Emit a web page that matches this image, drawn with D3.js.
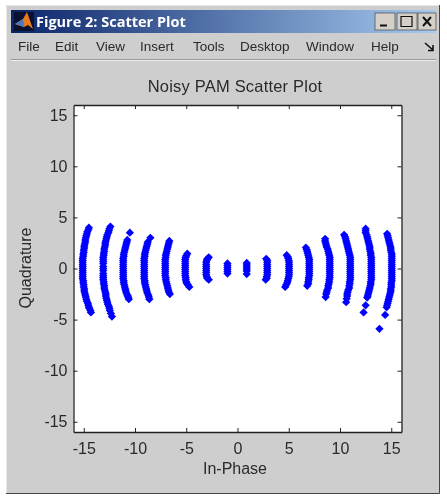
<!DOCTYPE html>
<html><head><meta charset="utf-8">
<script src="https://cdn.jsdelivr.net/npm/d3@7"></script>
<style>html,body{margin:0;padding:0;background:#fff}svg{display:block;filter:blur(0.35px)}text{font-family:"Liberation Sans",Arial,sans-serif;fill:#2a2a2a}</style>
</head><body><div id="c"></div>
<script>
const titleText = "Noisy PAM Scatter Plot", xLabel = "In-Phase", yLabel = "Quadrature";
const windowTitle = "Figure 2: Scatter Plot";
const menuItems = [["File",18],["Edit",55],["View",96],["Insert",140],["Tools",193],["Desktop",240],["Window",306],["Help",371]];
const xTicks = [-15,-10,-5,0,5,10,15], yTicks = [-15,-10,-5,0,5,10,15];
const armN15 = [[-14.5,4],[-14.55,3.8],[-14.65,3.6],[-14.7,3.4],[-14.75,3.2],[-14.8,3],[-14.85,2.8],[-14.85,2.6],[-14.9,2.4],[-14.95,2.2],[-14.95,2],[-15,1.8],[-15,1.6],[-15.05,1.4],[-15.05,1.2],[-15.1,1],[-15.1,.8],[-15.1,.6],[-15.1,.4],[-15.1,.2],[-15.1,0],[-15.1,-.2],[-15.1,-.4],[-15.1,-.6],[-15.1,-.8],[-15.1,-1],[-15.05,-1.2],[-15.05,-1.4],[-15,-1.6],[-15,-1.8],[-14.95,-2],[-14.95,-2.2],[-14.9,-2.4],[-14.85,-2.6],[-14.8,-2.8],[-14.75,-3],[-14.7,-3.2],[-14.6,-3.4],[-14.55,-3.6],[-14.5,-3.8],[-14.45,-3.9],[-14.35,-4.1],[-14.3,-4.3]];
const armN13 = [[-12.4,4.1],[-12.5,3.9],[-12.55,3.7],[-12.6,3.5],[-12.7,3.3],[-12.75,3.1],[-12.8,2.9],[-12.85,2.7],[-12.9,2.5],[-12.9,2.3],[-12.95,2.1],[-13,1.9],[-13,1.7],[-13.05,1.5],[-13.05,1.3],[-13.1,1.1],[-13.1,.9],[-13.1,.7],[-13.1,.5],[-13.1,.2],[-13.1,0],[-13.1,-.2],[-13.1,-.5],[-13.1,-.7],[-13.1,-.9],[-13.1,-1.1],[-13.05,-1.3],[-13.05,-1.5],[-13,-1.7],[-13,-1.9],[-12.95,-2.1],[-12.9,-2.3],[-12.85,-2.5],[-12.85,-2.7],[-12.8,-2.9],[-12.75,-3.1],[-12.7,-3.3],[-12.65,-3.5],[-12.55,-3.7],[-12.5,-3.9],[-12.45,-4.1],[-12.35,-4.4],[-12.25,-4.7]];
const armN11 = [[-10.5,3.5],[-10.75,2.8],[-10.8,2.6],[-10.85,2.4],[-10.9,2.2],[-10.95,2],[-11,1.8],[-11.05,1.6],[-11.1,1.4],[-11.1,1.2],[-11.15,1],[-11.15,.8],[-11.15,.6],[-11.15,.4],[-11.15,.2],[-11.15,0],[-11.15,-.2],[-11.15,-.4],[-11.15,-.6],[-11.15,-.8],[-11.15,-1],[-11.1,-1.2],[-11.1,-1.4],[-11.05,-1.6],[-11,-1.8],[-10.95,-2],[-10.9,-2.2],[-10.85,-2.4],[-10.75,-2.6],[-10.7,-2.7],[-10.65,-2.85],[-10.6,-3]];
const armN9 = [[-8.5,3],[-8.75,2.6],[-8.8,2.4],[-8.85,2.2],[-8.9,2],[-8.95,1.8],[-9,1.6],[-9.05,1.4],[-9.05,1.2],[-9.1,1],[-9.1,.8],[-9.1,.6],[-9.1,.4],[-9.1,.2],[-9.1,0],[-9.1,-.2],[-9.1,-.4],[-9.1,-.6],[-9.1,-.8],[-9.1,-1],[-9.05,-1.2],[-9.05,-1.4],[-9,-1.6],[-8.95,-1.8],[-8.9,-2],[-8.85,-2.2],[-8.8,-2.4],[-8.7,-2.6],[-8.65,-2.8],[-8.6,-3]];
const armN7 = [[-6.65,2.7],[-6.7,2.5],[-6.75,2.3],[-6.8,2.1],[-6.85,1.9],[-6.9,1.7],[-6.95,1.5],[-7,1.3],[-7,1.1],[-7.05,.9],[-7.05,.7],[-7.05,.5],[-7.05,.3],[-7.05,.1],[-7.05,-.1],[-7.05,-.3],[-7.05,-.5],[-7.05,-.7],[-7,-.9],[-7,-1.1],[-6.95,-1.3],[-6.9,-1.5],[-6.85,-1.7],[-6.8,-1.9],[-6.75,-2.1],[-6.7,-2.3],[-6.6,-2.5]];
const armN5 = [[-4.9,1.45],[-5,1.25],[-5.05,1.1],[-5.1,.9],[-5.1,.7],[-5.1,.5],[-5.1,.3],[-5.1,.1],[-5.1,-.1],[-5.1,-.3],[-5.1,-.5],[-5.1,-.7],[-5.05,-.9],[-5.05,-1.1],[-5,-1.3],[-4.95,-1.45],[-4.85,-1.6],[-4.7,-1.8]];
const armN3 = [[-2.8,1.1],[-2.95,.95],[-3,.8],[-3.05,.6],[-3.05,.4],[-3.05,.2],[-3.05,0],[-3.05,-.2],[-3.05,-.4],[-3.05,-.6],[-3,-.8],[-2.95,-.95],[-2.8,-1.1]];
const armN1 = [[-.98,.5],[-.98,.3],[-.98,.1],[-.98,-.1],[-.98,-.3],[-.98,-.5]];
const armP1 = [[.9,.55],[.9,.35],[.9,.15],[.9,-.05],[.9,-.25],[.9,-.55]];
const armP3 = [[2.8,.95],[2.9,.8],[2.9,.6],[2.9,.4],[2.9,.2],[2.9,0],[2.9,-.2],[2.9,-.4],[2.9,-.6],[2.85,-.8],[2.85,-.95],[2.75,-1.1]];
const armP5 = [[4.8,1.3],[4.9,1.15],[4.95,1],[5,.8],[5.03,.6],[5.03,.4],[5.03,.2],[5.03,0],[5.03,-.2],[5.03,-.4],[5.03,-.6],[5,-.8],[4.95,-1],[4.9,-1.2],[4.85,-1.4],[4.75,-1.6],[4.65,-1.8]];
const armP7 = [[6.67,2.05],[6.75,1.85],[6.8,1.7],[6.85,1.5],[6.9,1.3],[6.95,1.1],[7,.9],[7,.7],[7,.5],[7,.3],[7,.1],[7,-.1],[7,-.3],[7,-.5],[7,-.7],[6.95,-.9],[6.95,-1.1],[6.9,-1.3],[6.9,-1.5],[6.8,-1.7]];
const armP9 = [[8.55,2.9],[8.55,2.7],[8.6,2.5],[8.65,2.3],[8.7,2.1],[8.8,1.9],[8.85,1.7],[8.9,1.5],[8.95,1.3],[9,1.1],[9,.9],[9,.7],[9,.5],[9,.3],[9,.1],[9,-.1],[9,-.3],[9,-.5],[9,-.7],[9,-.9],[8.95,-1.1],[8.95,-1.3],[8.9,-1.5],[8.85,-1.7],[8.85,-1.9],[8.75,-2.1],[8.7,-2.3],[8.65,-2.5],[8.6,-2.8]];
const armP11 = [[10.4,3.3],[10.5,3.1],[10.55,2.9],[10.6,2.7],[10.65,2.5],[10.7,2.3],[10.75,2.1],[10.8,1.9],[10.85,1.7],[10.9,1.5],[10.95,1.3],[11,1.1],[11,.9],[11,.7],[11,.5],[11,.3],[11,.1],[11,-.1],[11,-.3],[11,-.5],[11,-.7],[11,-.9],[11,-1.1],[10.95,-1.3],[10.95,-1.5],[10.9,-1.7],[10.9,-1.9],[10.8,-2.1],[10.75,-2.3],[10.7,-2.5],[10.7,-2.7],[10.65,-2.95],[10.6,-3.3]];
const armP13 = [[12.5,3.9],[12.5,3.7],[12.5,3.5],[12.6,3.3],[12.65,3.1],[12.7,2.9],[12.75,2.7],[12.8,2.5],[12.85,2.3],[12.9,2.1],[12.9,1.9],[12.95,1.7],[13,1.5],[13,1.3],[13.05,1.1],[13.05,.9],[13.05,.7],[13.05,.5],[13.05,.3],[13.05,.1],[13.05,-.1],[13.05,-.3],[13.05,-.5],[13.05,-.7],[13.05,-.9],[13.05,-1.1],[13,-1.3],[13,-1.5],[12.95,-1.7],[12.9,-1.9],[12.85,-2.1],[12.8,-2.3],[12.75,-2.5],[12.7,-2.7],[12.65,-2.85],[12.5,-3.6],[12.3,-4.3]];
const armP15 = [[14.6,3.4],[14.65,3.2],[14.7,3],[14.75,2.8],[14.8,2.6],[14.85,2.4],[14.9,2.2],[14.95,2],[14.95,1.8],[15,1.6],[15.05,1.4],[15.05,1.2],[15.05,1],[15.05,.8],[15.05,.6],[15.05,.4],[15.05,.2],[15.05,0],[15.05,-.2],[15.05,-.4],[15.05,-.6],[15.05,-.8],[15.05,-1],[15.05,-1.2],[15,-1.4],[15,-1.6],[15,-1.8],[14.95,-2],[14.95,-2.2],[14.9,-2.4],[14.85,-2.6],[14.8,-2.8],[14.75,-3],[14.7,-3.2],[14.65,-3.4],[14.6,-3.6],[14.55,-3.8],[14.4,-4.55],[13.85,-5.9]];
const arms = [armN15,armN13,armN11,armN9,armN7,armN5,armN3,armN1,armP1,armP3,armP5,armP7,armP9,armP11,armP13,armP15];

const W=447,H=496;
const svg=d3.select("#c").append("svg").attr("width",W).attr("height",H);
const defs=svg.append("defs");
const g=defs.append("linearGradient").attr("id","tb");
g.append("stop").attr("offset",0).attr("stop-color","#0a246a");
g.append("stop").attr("offset",1).attr("stop-color","#a6caf0");
svg.append("rect").attr("x",6).attr("y",5).attr("width",434).attr("height",489).attr("fill","#cecece");
svg.append("path").attr("d","M6.5 494V5.5H439").attr("fill","none").attr("stroke","#e8e8e8");
svg.append("path").attr("d","M6 493.5H439.5V5").attr("fill","none").attr("stroke","#444");
svg.append("rect").attr("x",11).attr("y",10).attr("width",425).attr("height",23).attr("fill","url(#tb)");
svg.append("rect").attr("x",14).attr("y",12).attr("width",20).attr("height",19).attr("fill","#0a1030");
svg.append("path").attr("d","M15 24L23 19L27 12L33 29L28 25L24 27Z").attr("fill","#e8791e");
svg.append("path").attr("d","M15 24L23 19L24 27Z").attr("fill","#4a78c0");
svg.append("text").text(windowTitle).attr("x",36).attr("y",27).attr("font-size",14.5).attr("font-weight","bold")
  .style("font-family","'Open Sans',sans-serif").style("fill","#fff");
[[375,"min"],[397,"max"],[418,"close"]].forEach(([x,k])=>{
  svg.append("rect").attr("x",x).attr("y",13).attr("width",k=="close"?18:20).attr("height",17).attr("fill","#d4d0c8").attr("stroke","#555").attr("stroke-width",.8);
  const s=k=="min"?`M${x+5} 25.5H${x+12}`:k=="max"?`M${x+4} 16.5H${x+15}V26.5H${x+4}Z`:`M${x+5} 17L${x+13} 26M${x+13} 17L${x+5} 26`;
  svg.append("path").attr("d",s).attr("fill","none").attr("stroke","#111").attr("stroke-width",k=="max"?1.2:2);
});
menuItems.forEach(([t,x])=>svg.append("text").text(t).attr("x",x).attr("y",51).attr("font-size",13.5));
svg.append("path").attr("d","M425 43L433 50M433 45V50.5H428").attr("fill","none").attr("stroke","#111").attr("stroke-width",1.6);
svg.append("path").attr("d","M11 59.5H436").attr("stroke","#999").attr("stroke-width",1.2);
svg.append("path").attr("d","M11 60.5H436").attr("stroke","#eee");
const x=d3.scaleLinear().domain([-16,16]).range([73.5,401.5]);
const y=d3.scaleLinear().domain([-16,16]).range([432,105]);
svg.append("rect").attr("x",x(-16)).attr("y",y(16)).attr("width",x(16)-x(-16)).attr("height",y(-16)-y(16)).attr("fill","#fff");
const sym=d3.symbol(d3.symbolSquare,34)();
svg.append("g").selectAll("g").data(arms).join("g").attr("fill","#0000ff")
  .selectAll("path").data(d=>d).join("path").attr("d",sym)
  .attr("transform",d=>`translate(${x(d[0])},${y(d[1])}) rotate(45)`);
const style=(s)=>{s.selectAll("text").style("font-size","16px");s.selectAll("line").attr("stroke","#222");s.selectAll(".domain").attr("stroke","#222").attr("stroke-width",1.3);};
svg.append("g").attr("transform",`translate(0,${y(-16)})`).call(d3.axisBottom(x).tickValues(xTicks).tickSize(-4).tickPadding(11).tickSizeOuter(0).tickFormat(String)).call(style);
svg.append("g").attr("transform",`translate(0,${y(16)})`).call(d3.axisTop(x).tickValues(xTicks).tickSize(-4).tickFormat("").tickSizeOuter(0)).call(style);
svg.append("g").attr("transform",`translate(${x(-16)},0)`).call(d3.axisLeft(y).tickValues(yTicks).tickSize(-4).tickPadding(6).tickSizeOuter(0).tickFormat(String)).call(style);
svg.append("g").attr("transform",`translate(${x(16)},0)`).call(d3.axisRight(y).tickValues(yTicks).tickSize(-4).tickFormat("").tickSizeOuter(0)).call(style);
svg.selectAll("g.tick text").style("font-family","'Liberation Sans',Arial,sans-serif").style("fill","#2a2a2a");
svg.append("text").text(titleText).attr("x",235).attr("y",92).attr("text-anchor","middle").attr("font-size",16.5).style("letter-spacing","0.2px");
svg.append("text").text(xLabel).attr("x",235).attr("y",474).attr("text-anchor","middle").attr("font-size",16);
svg.append("text").text(yLabel).attr("transform","translate(31,268) rotate(-90)").attr("text-anchor","middle").attr("font-size",16);
</script></body></html>
